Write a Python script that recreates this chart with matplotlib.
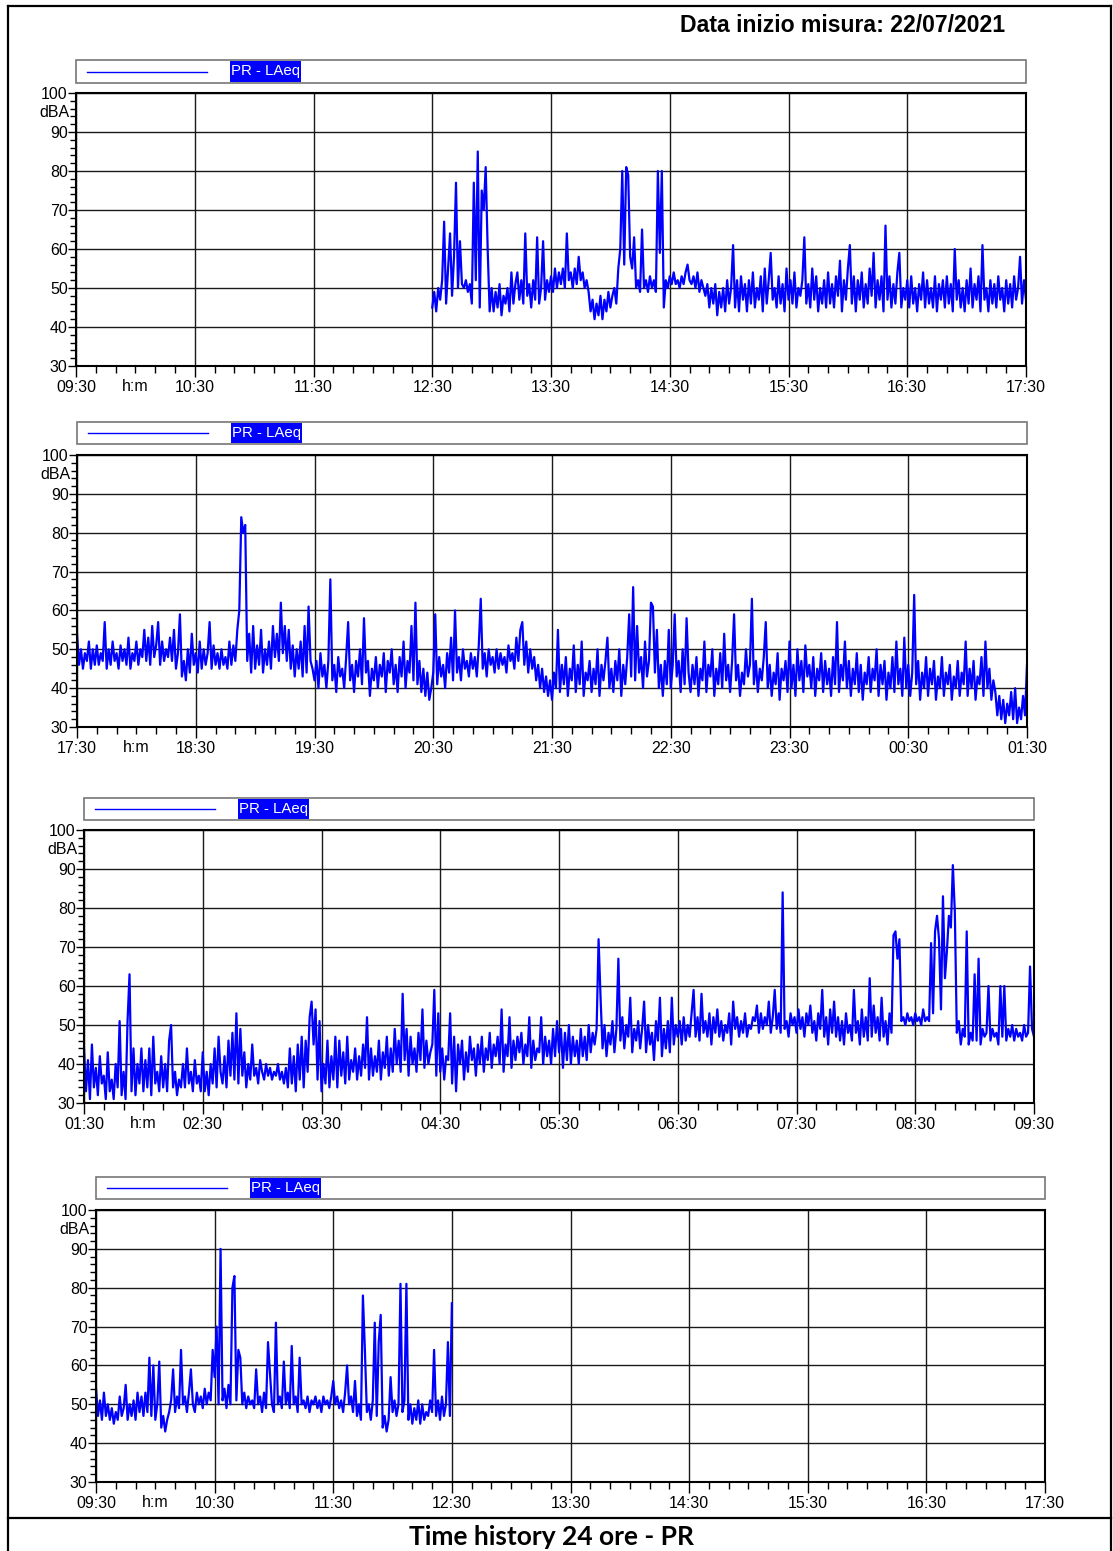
import matplotlib
matplotlib.use("Agg")
import matplotlib.pyplot as plt
from matplotlib.lines import Line2D
from matplotlib.patches import Rectangle
from matplotlib.ticker import FixedLocator, FixedFormatter, MultipleLocator
import numpy as np

# ---------------- data ----------------
header_text = "Data inizio misura: 22/07/2021"
footer_text = "Time history 24 ore - PR"
series_name = "PR - LAeq"
y_unit = "dBA"
time_unit = "h:m"

y_ticks = [30, 40, 50, 60, 70, 80, 90, 100]

p1_ticklabels = ["09:30", "10:30", "11:30", "12:30", "13:30", "14:30", "15:30", "16:30", "17:30"]
p2_ticklabels = ["17:30", "18:30", "19:30", "20:30", "21:30", "22:30", "23:30", "00:30", "01:30"]
p3_ticklabels = ["01:30", "02:30", "03:30", "04:30", "05:30", "06:30", "07:30", "08:30", "09:30"]
p4_ticklabels = ["09:30", "10:30", "11:30", "12:30", "13:30", "14:30", "15:30", "16:30", "17:30"]

# first sample offset (minutes after the panel start), one sample per minute
p1_start = 180
p2_start = 0
p3_start = 0
p4_start = 0

p1_laeq = [
    45, 49, 44, 50, 47, 52, 67, 46, 55, 64,
    48, 58, 77, 50, 62, 51, 50, 52, 49, 51,
    46, 77, 52, 85, 45, 75, 70, 81, 60, 44,
    50, 44, 49, 45, 51, 43, 48, 46, 50, 44,
    54, 46, 51, 54, 47, 52, 46, 64, 48, 51,
    45, 52, 47, 63, 46, 50, 62, 47, 52, 49,
    53, 49, 55, 50, 54, 51, 55, 50, 64, 52,
    54, 50, 55, 51, 58, 52, 54, 50, 52, 49,
    44, 47, 42, 46, 43, 48, 42, 47, 44, 49,
    45, 48, 50, 46, 55, 60, 80, 56, 81, 79,
    58, 55, 63, 50, 52, 49, 65, 50, 52, 49,
    53, 50, 52, 49, 80, 59, 80, 45, 52, 50,
    53, 51, 54, 51, 52, 50, 53, 51, 54, 56,
    52, 51, 53, 50, 54, 49, 52, 50, 48, 51,
    45, 50, 46, 51, 43, 49, 45, 50, 44, 52,
    46, 50, 61, 45, 52, 44, 53, 47, 51, 44,
    52, 46, 54, 45, 50, 47, 53, 44, 55, 46,
    52, 59, 47, 50, 45, 53, 46, 51, 44, 55,
    47, 52, 46, 54, 45, 50, 48, 52, 63, 46,
    51, 45, 55, 47, 53, 44, 50, 46, 52, 45,
    54, 46, 51, 45, 53, 48, 57, 44, 52, 47,
    55, 61, 46, 53, 44, 52, 47, 54, 45, 51,
    46, 55, 48, 59, 45, 52, 47, 53, 44, 66,
    47, 53, 45, 51, 46, 54, 59, 45, 50, 47,
    52, 45, 53, 46, 50, 44, 51, 47, 54, 45,
    52, 46, 50, 45, 53, 44, 51, 47, 52, 45,
    53, 46, 51, 44, 60, 47, 52, 45, 50, 44,
    52, 46, 55, 45, 51, 47, 53, 44, 61, 47,
    50, 44, 52, 46, 51, 45, 53, 47, 50, 44,
    52, 46, 51, 45, 53, 47, 50, 58, 46, 52,
    47,
]

p2_laeq = [
    54, 46, 50, 45, 49, 47, 52, 45, 50, 46,
    51, 46, 49, 47, 57, 45, 50, 46, 52, 47,
    49, 45, 51, 47, 50, 46, 53, 45, 49, 47,
    52, 46, 50, 48, 55, 47, 53, 46, 56, 48,
    51, 57, 46, 52, 47, 50, 48, 53, 47, 55,
    45, 49, 59, 43, 47, 42, 50, 44, 54, 46,
    49, 44, 52, 45, 50, 46, 49, 57, 45, 51,
    46, 49, 45, 50, 46, 48, 45, 52, 46, 51,
    47, 55, 60, 84, 80, 82, 47, 54, 44, 56,
    45, 51, 46, 55, 44, 50, 46, 52, 45, 56,
    48, 54, 47, 62, 49, 56, 47, 55, 45, 51,
    43, 50, 45, 52, 43, 56, 44, 61, 47, 45,
    42, 47, 40, 49, 43, 46, 40, 47, 68, 42,
    46, 39, 48, 43, 45, 40, 48, 57, 42, 46,
    39, 47, 43, 50, 41, 58, 44, 47, 38, 45,
    42, 48, 40, 46, 43, 49, 39, 47, 44, 50,
    41, 46, 39, 48, 43, 52, 40, 47, 44, 56,
    42, 62, 41, 47, 39, 45, 38, 44, 37, 40,
    44, 59, 41, 48, 43, 46, 40, 49, 44, 53,
    42, 60, 44, 48, 42, 50, 45, 47, 43, 49,
    45, 48, 43, 51, 63, 45, 49, 43, 50, 46,
    48, 44, 50, 45, 49, 46, 48, 44, 51, 47,
    49, 45, 53, 47, 55, 57, 46, 52, 44, 50,
    45, 48, 42, 46, 40, 45, 39, 43, 38, 42,
    37, 44, 40, 55, 39, 46, 41, 48, 38, 45,
    42, 51, 39, 46, 41, 52, 38, 44, 42, 47,
    39, 45, 41, 50, 38, 46, 42, 47, 53, 40,
    45, 39, 47, 42, 50, 38, 46, 41, 48, 59,
    43, 66, 42, 56, 44, 48, 40, 52, 43, 47,
    62, 61, 44, 55, 40, 46, 38, 47, 41, 55,
    40, 46, 59, 43, 47, 39, 50, 41, 58, 44,
    39, 46, 41, 48, 38, 45, 42, 52, 39, 46,
    43, 50, 38, 45, 41, 49, 40, 54, 42, 46,
    39, 47, 59, 42, 46, 38, 44, 41, 50, 43,
    46, 63, 41, 47, 39, 45, 42, 48, 57, 40,
    46, 38, 44, 41, 49, 37, 45, 42, 47, 39,
    52, 40, 46, 38, 50, 42, 47, 39, 51, 43,
    46, 40, 48, 38, 45, 42, 49, 39, 47, 41,
    45, 38, 48, 41, 57, 39, 46, 42, 52, 40,
    47, 38, 45, 41, 49, 39, 46, 37, 44, 41,
    48, 39, 45, 42, 50, 38, 46, 41, 47, 37,
    44, 40, 48, 39, 52, 41, 45, 38, 53, 40,
    46, 38, 44, 64, 41, 47, 37, 44, 40, 48,
    38, 45, 41, 47, 37, 43, 40, 48, 38, 44,
    41, 46, 37, 43, 40, 47, 38, 44, 41, 52,
    38, 45, 40, 47, 37, 43, 41, 48, 38, 52,
    40, 45, 37, 42, 39, 33, 38, 32, 37, 31,
    36, 33, 39, 32, 40, 31, 35, 32, 38, 33,
    46,
]

p3_laeq = [
    44, 33, 41, 31, 45, 34, 39, 32, 42, 35,
    37, 31, 43, 33, 36, 31, 40, 34, 51, 32,
    38, 31, 51, 63, 33, 44, 32, 40, 35, 44,
    33, 41, 34, 44, 32, 47, 35, 38, 33, 42,
    34, 40, 33, 46, 50, 34, 38, 32, 36, 34,
    40, 34, 44, 35, 38, 33, 41, 35, 37, 33,
    43, 33, 38, 32, 40, 35, 44, 34, 47, 38,
    35, 42, 34, 46, 37, 48, 36, 53, 35, 49,
    37, 43, 34, 40, 36, 45, 37, 39, 35, 41,
    38, 36, 40, 37, 39, 36, 38, 37, 40, 36,
    38, 35, 39, 34, 44, 35, 42, 33, 45, 36,
    47, 34, 46, 38, 52, 56, 45, 54, 36, 51,
    33, 40, 35, 46, 34, 42, 36, 47, 34, 46,
    37, 43, 35, 47, 36, 41, 38, 44, 36, 42,
    37, 45, 39, 52, 36, 44, 37, 42, 38, 46,
    36, 43, 39, 47, 37, 44, 38, 49, 40, 46,
    38, 58, 41, 49, 37, 47, 40, 44, 38, 48,
    41, 54, 39, 46, 40, 43, 45, 59, 37, 53,
    38, 44, 36, 42, 41, 53, 35, 47, 33, 45,
    40, 46, 36, 43, 38, 47, 41, 44, 37, 45,
    40, 47, 38, 44, 41, 48, 39, 45, 42, 47,
    40, 54, 38, 45, 42, 52, 39, 46, 41, 47,
    43, 48, 40, 45, 42, 52, 39, 46, 41, 44,
    43, 52, 40, 47, 42, 46, 40, 49, 42, 51,
    43, 49, 39, 48, 41, 50, 40, 47, 42, 46,
    40, 49, 42, 47, 41, 50, 43, 48, 45, 49,
    72, 57, 44, 50, 42, 48, 45, 51, 43, 49,
    67, 46, 52, 44, 50, 47, 57, 43, 49, 46,
    51, 44, 49, 56, 43, 50, 45, 48, 41, 51,
    46, 57, 42, 49, 44, 51, 43, 57, 45, 50,
    47, 51, 45, 52, 46, 50, 47, 53, 59, 47,
    52, 46, 58, 48, 51, 47, 53, 45, 52, 48,
    54, 47, 51, 46, 50, 48, 53, 45, 56, 49,
    52, 47, 51, 48, 53, 47, 50, 49, 52, 51,
    55, 48, 53, 49, 52, 50, 56, 48, 52, 59,
    49, 53, 48, 84, 49, 51, 47, 53, 50, 52,
    48, 54, 49, 52, 47, 53, 50, 55, 48, 51,
    46, 53, 49, 59, 47, 52, 45, 54, 48, 56,
    47, 52, 46, 51, 45, 53, 48, 50, 46, 59,
    48, 51, 45, 54, 47, 52, 46, 62, 47, 55,
    48, 52, 46, 57, 47, 51, 45, 53, 48, 73,
    74, 67, 72, 51, 52, 50, 53, 51, 52, 50,
    53, 51, 52, 50, 54, 51, 52, 51, 71, 53,
    74, 78, 72, 54, 83, 62, 69, 78, 75, 91,
    79, 48, 51, 45, 49, 47, 74, 45, 48, 46,
    63, 46, 67, 45, 49, 47, 48, 60, 46, 49,
    47, 48, 45, 60, 47, 60, 46, 49, 47, 50,
    46, 49, 47, 48, 46, 50, 47, 48, 65, 49,
    47,
]

p4_laeq = [
    54, 47, 51, 46, 53, 47, 50, 46, 49, 45,
    48, 46, 52, 47, 49, 55, 46, 50, 47, 51,
    46, 53, 48, 52, 47, 53, 48, 62, 47, 60,
    46, 50, 61, 44, 47, 43, 46, 48, 51, 59,
    48, 52, 49, 64, 50, 52, 48, 53, 59, 50,
    48, 53, 50, 52, 49, 54, 50, 53, 51, 64,
    57, 70, 50, 90, 51, 54, 49, 55, 50, 80,
    83, 51, 64, 62, 50, 53, 49, 52, 50, 51,
    49, 59, 50, 52, 48, 53, 49, 66, 58, 50,
    48, 71, 50, 52, 49, 61, 50, 53, 49, 65,
    50, 52, 48, 62, 50, 51, 49, 52, 48, 51,
    50, 52, 49, 51, 48, 52, 50, 51, 49, 52,
    56, 50, 52, 49, 51, 48, 53, 60, 50, 52,
    48, 56, 47, 50, 46, 78, 64, 48, 50, 46,
    51, 71, 47, 66, 73, 44, 47, 43, 46, 57,
    48, 51, 47, 50, 81, 48, 51, 81, 46, 50,
    45, 49, 46, 51, 45, 50, 46, 48, 47, 51,
    48, 64, 47, 51, 46, 52, 47, 50, 66, 47,
    76,
]

# ---------------- drawing ----------------
W, H = 1113, 1551
fig = plt.figure(figsize=(W / 100, H / 100), dpi=100)
fig.patch.set_facecolor("white")

FONT = ["Liberation Sans", "DejaVu Sans"]
BLUE = "#0000ff"

def fx(px):
    return px / W

def fy(py):
    return 1 - py / H

# outer frame
for (xa, ya, xb, yb) in [(8, 6, 1111, 6), (8, 6, 8, 1551), (1111, 6, 1111, 1551), (8, 1518, 1111, 1518)]:
    fig.add_artist(Line2D([fx(xa), fx(xb)], [fy(ya), fy(yb)], color="black", lw=1.6,
                          transform=fig.transFigure))

fig.text(fx(1005), fy(25), header_text, ha="right", va="center", fontsize=16.6, fontweight="bold",
         family=FONT)
fig.text(fx(551), fy(1537), footer_text, ha="center", va="center", fontsize=19, fontweight="bold",
         family=["Lato", "Open Sans", "DejaVu Sans"])

panels = [
    # (x0, x1, ytop, ybot, legend_top, legend_bot, labels, start, values)
    (76, 1026, 93, 366, 60, 83, p1_ticklabels, p1_start, p1_laeq),
    (77, 1027, 455, 727, 422, 444, p2_ticklabels, p2_start, p2_laeq),
    (84, 1034, 830, 1103, 798, 820, p3_ticklabels, p3_start, p3_laeq),
    (96, 1045, 1210, 1482, 1177, 1199, p4_ticklabels, p4_start, p4_laeq),
]

for (x0, x1, yt, yb, lt, lb, labels, start, vals) in panels:
    ax = fig.add_axes([fx(x0), fy(yb), fx(x1 - x0), (yb - yt) / H])
    minutes = start + np.arange(len(vals))
    ax.plot(minutes, vals, color=BLUE, lw=1.6, zorder=3)
    ax.set_xlim(0, 480)
    ax.set_ylim(30, 100)

    ax.xaxis.set_major_locator(FixedLocator(list(range(0, 481, 60))))
    ax.xaxis.set_major_formatter(FixedFormatter(labels))
    ax.xaxis.set_minor_locator(MultipleLocator(10))
    ax.yaxis.set_major_locator(FixedLocator(y_ticks))
    ax.yaxis.set_major_formatter(FixedFormatter([str(v) for v in y_ticks]))
    ax.yaxis.set_minor_locator(MultipleLocator(2))

    ax.tick_params(axis="x", which="major", length=8, width=1, direction="out", pad=2,
                   labelsize=11.5, color="black")
    ax.tick_params(axis="x", which="minor", length=5, width=1, direction="out", color="black")
    ax.tick_params(axis="y", which="major", length=6, width=1, direction="out", pad=0,
                   labelsize=11.5, color="black")
    ax.tick_params(axis="y", which="minor", length=4, width=1, direction="out", color="black")
    for lab in ax.get_xticklabels() + ax.get_yticklabels():
        lab.set_family(FONT)

    ax.grid(True, which="major", color="#1a1a1a", lw=1.0, zorder=1)
    ax.set_axisbelow(True)
    for sp in ax.spines.values():
        sp.set_linewidth(1.5)
        sp.set_color("black")
        sp.set_zorder(4)

    ax.annotate(time_unit, xy=(30, 0), xycoords=("data", "axes fraction"),
                xytext=(0, -15), textcoords="offset points", ha="center", va="center",
                fontsize=11.5, family=FONT)
    ax.annotate(y_unit, xy=(0, 95), xycoords="data", xytext=(-4.5, 0),
                textcoords="offset points", ha="right", va="center",
                fontsize=11.5, family=FONT, annotation_clip=False)

    # legend box
    fig.add_artist(Rectangle((fx(x0), fy(lb)), fx(x1 - x0), (lb - lt) / H, fill=False,
                             ec="#777777", lw=1.2, transform=fig.transFigure))
    ymid = (lt + lb) / 2
    fig.add_artist(Line2D([fx(x0 + 11), fx(x0 + 131)], [fy(ymid), fy(ymid)], color=BLUE, lw=1.0,
                          transform=fig.transFigure))
    fig.add_artist(Rectangle((fx(x0 + 154), fy(lb - 1)), fx(71), (lb - lt - 2) / H, fc=BLUE,
                             ec="none", transform=fig.transFigure))
    fig.text(fx(x0 + 189.5), fy(ymid), series_name, ha="center", va="center", color="white",
             fontsize=10.8, family=FONT)

fig.savefig("out.png", dpi=100, facecolor="white")
